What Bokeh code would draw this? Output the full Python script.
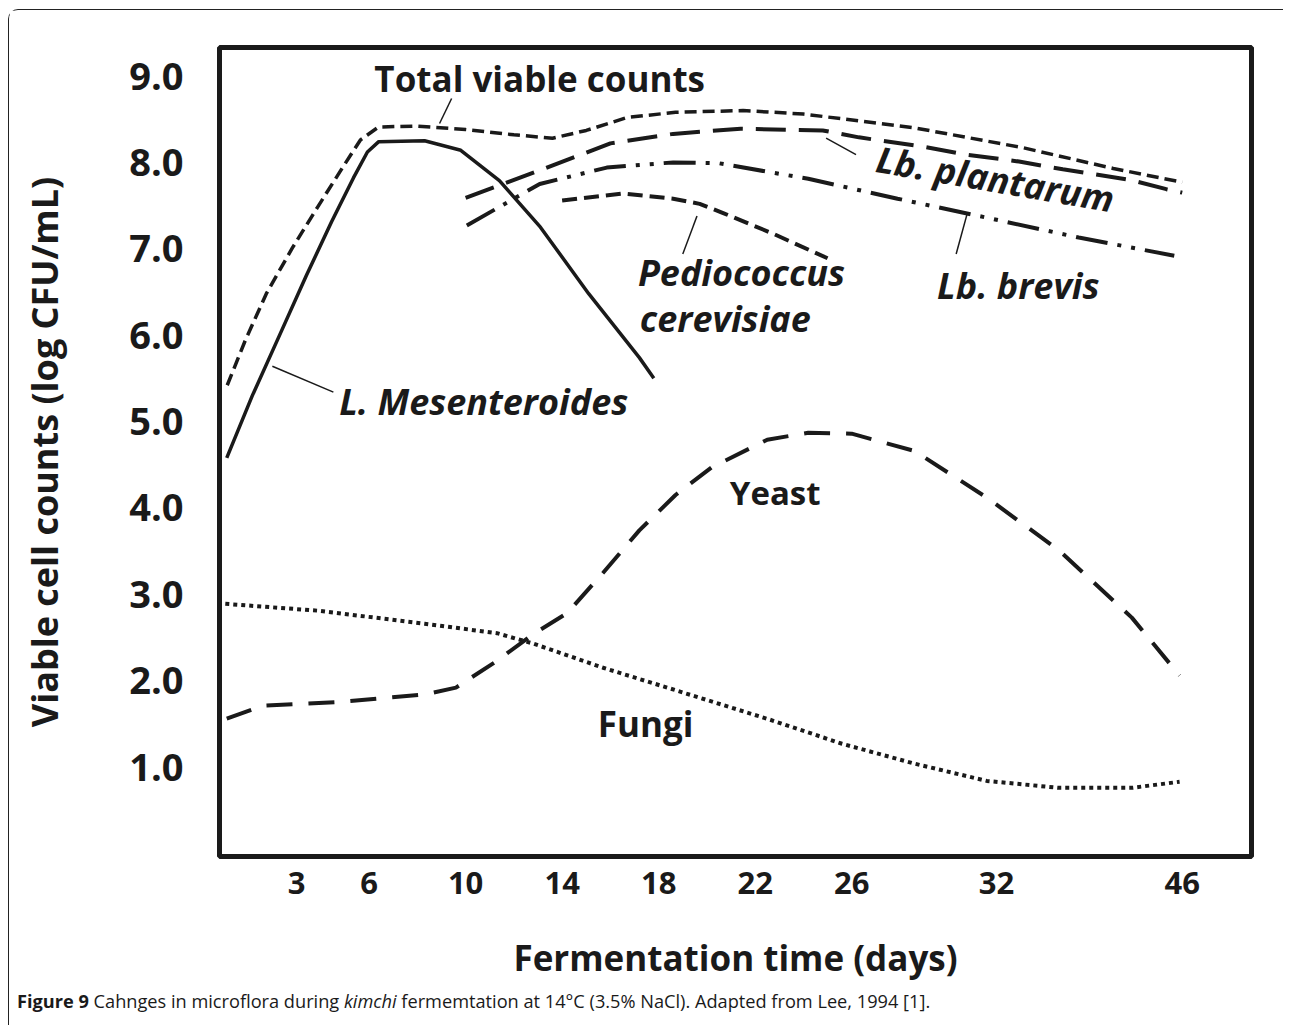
import numpy as np
from bokeh.plotting import figure
from bokeh.models import Range1d, FixedTicker, PrintfTickFormatter, Label, Div
from bokeh.layouts import column
from bokeh.embed import file_html
from bokeh.resources import INLINE

# ---------------- data ----------------
tick_days = [3, 6, 10, 14, 18, 22, 26, 32, 46]
tick_labels = ["3", "6", "10", "14", "18", "22", "26", "32", "46"]
y_ticks = [1, 2, 3, 4, 5, 6, 7, 8, 9]

# the day axis is compressed after day 32 (32 -> 46 drawn shorter)
axis_days = [0, 32, 46]
axis_pos = [0, 32, 39.7]

total_days = [0.12, 0.87, 1.74, 2.82, 3.86, 4.9, 5.64, 6.39, 8.0, 10.0, 12.0, 13.6, 15.0, 16.7, 18.7, 21.5, 24.0, 28.6, 34.0, 40.8, 46.0]
total_vals = [5.42, 5.94, 6.48, 7.01, 7.48, 7.94, 8.26, 8.41, 8.42, 8.38, 8.32, 8.28, 8.37, 8.52, 8.58, 8.60, 8.56, 8.40, 8.17, 7.93, 7.77]

mes_days = [0.1, 1.16, 2.37, 3.4, 4.44, 5.35, 5.93, 6.4, 8.3, 9.8, 11.4, 13.1, 15.1, 17.2, 17.8]
mes_vals = [4.58, 5.30, 6.05, 6.69, 7.31, 7.82, 8.12, 8.24, 8.25, 8.14, 7.79, 7.25, 6.48, 5.74, 5.50]

plant_days = [10.0, 13.0, 16.0, 18.6, 21.4, 24.8, 26.3, 29.0, 30.75, 33.7, 37.0, 42.0, 44.8, 46.0]
plant_vals = [7.59, 7.90, 8.22, 8.33, 8.39, 8.37, 8.29, 8.18, 8.09, 8.01, 7.92, 7.80, 7.69, 7.65]

brevis_days = [10.05, 13.07, 15.85, 18.6, 20.5, 24.2, 27.9, 31.6, 38.2, 45.4]
brevis_vals = [7.27, 7.75, 7.94, 8.00, 7.99, 7.81, 7.58, 7.36, 7.13, 6.92]

pedio_days = [14.0, 16.5, 18.6, 19.7, 20.7, 22.7, 25.0]
pedio_vals = [7.56, 7.64, 7.58, 7.52, 7.41, 7.18, 6.89]

yeast_days = [0.1, 1.6, 4.6, 8.3, 9.6, 11.3, 12.8, 14.2, 15.7, 17.2, 18.7, 20.2, 22.5, 24.2, 26.0, 28.6, 31.6, 36.7, 42.2, 45.8]
yeast_vals = [1.56, 1.71, 1.75, 1.84, 1.92, 2.23, 2.54, 2.78, 3.25, 3.74, 4.15, 4.47, 4.79, 4.87, 4.86, 4.66, 4.12, 3.51, 2.73, 2.06]

fungi_days = [0.04, 3.9, 8.3, 11.3, 12.8, 15.7, 18.7, 22.6, 25.6, 28.6, 31.6, 36.7, 42.2, 45.8]
fungi_vals = [2.89, 2.81, 2.66, 2.55, 2.43, 2.15, 1.89, 1.55, 1.27, 1.04, 0.84, 0.76, 0.76, 0.83]


def pos(days):
    return np.interp(np.asarray(days, dtype=float), axis_days, axis_pos)


INK = "#1a1a1a"
FONT = "Open Sans"

p = figure(width=1274, height=979,
           x_range=Range1d(-0.2, 42.57), y_range=Range1d(-0.035, 9.33),
           output_backend="svg", toolbar_location=None,
           min_border_left=210, min_border_right=32,
           min_border_top=37, min_border_bottom=133)
p.background_fill_color = "white"
p.border_fill_color = "white"
p.outline_line_color = INK
p.outline_line_width = 5
p.grid.visible = False

# ---- axes ----
tpos = [float(v) for v in pos(tick_days)]
p.xaxis.ticker = FixedTicker(ticks=tpos)
p.xaxis.major_label_overrides = {t: lab for t, lab in zip(tpos, tick_labels)}
p.yaxis.ticker = FixedTicker(ticks=y_ticks)
p.yaxis.formatter = PrintfTickFormatter(format="%.1f")
for ax in (p.xaxis, p.yaxis):
    ax.axis_line_color = None
    ax.major_tick_line_color = None
    ax.minor_tick_line_color = None
    ax.major_label_text_color = INK
    ax.major_label_text_font = FONT
    ax.major_label_text_font_style = "bold"
    ax.axis_label_text_color = INK
    ax.axis_label_text_font = FONT
    ax.axis_label_text_font_style = "bold"

p.xaxis.major_label_text_font_size = "31px"
p.xaxis.major_label_standoff = 9
p.xaxis.axis_label = "Fermentation time (days)"
p.xaxis.axis_label_text_font_size = "35px"
p.xaxis.axis_label_standoff = 37

p.yaxis.major_label_text_font_size = "38px"
p.yaxis.major_label_standoff = 30
p.yaxis.axis_label = "Viable cell counts (log CFU/mL)"
p.yaxis.axis_label_text_font_size = "36px"
p.yaxis.axis_label_standoff = 57

# ---- curves ----
p.line(pos(fungi_days), fungi_vals, line_color=INK, line_width=4, line_dash="4 4")
p.line(pos(yeast_days), yeast_vals, line_color=INK, line_width=4, line_dash="26 16")
p.line(pos(pedio_days), pedio_vals, line_color=INK, line_width=4, line_dash="15 7")
p.line(pos(brevis_days), brevis_vals, line_color=INK, line_width=4, line_dash="32 10 4 10 4 10")
p.line(pos(plant_days), plant_vals, line_color=INK, line_width=4, line_dash="30 13")
p.line(pos(mes_days), mes_vals, line_color=INK, line_width=3.5)
p.line(pos(total_days), total_vals, line_color=INK, line_width=3.5, line_dash="12 6")

# ---- pointer lines for the curve names ----
ptr_x0 = [9.42, 1.99, 19.59, 24.94, 30.79]
ptr_y0 = [8.74, 5.64, 7.38, 8.28, 7.41]
ptr_x1 = [8.92, 4.52, 19.00, 26.18, 30.33]
ptr_y1 = [8.45, 5.34, 6.94, 8.09, 6.94]
p.segment(ptr_x0, ptr_y0, ptr_x1, ptr_y1, line_color=INK, line_width=1.5)

# ---- curve names ----
def add_label(x, y, text, size, style, align="left", angle=0.0):
    p.add_layout(Label(x=x, y=y, text=text, text_font=FONT, text_font_size=size,
                       text_font_style=style, text_color=INK, text_align=align,
                       text_baseline="middle", angle=angle))

add_label(13.07, 8.97, "Total viable counts", "35px", "bold", "center")
add_label(10.75, 5.23, "L. Mesenteroides", "36px", "bold italic", "center")
add_label(17.14, 6.72, "Pediococcus", "36px", "bold italic")
add_label(17.22, 6.19, "cerevisiae", "36px", "bold italic")
add_label(31.95, 7.81, "Lb. plantarum", "36px", "bold italic", "center", -0.17)
add_label(29.54, 6.57, "Lb. brevis", "36px", "bold italic")
add_label(20.95, 4.18, "Yeast", "33px", "bold")
add_label(15.48, 1.50, "Fungi", "35px", "bold")

caption = Div(
    text=("<b>Figure 9</b> Cahnges in microflora during <i>kimchi</i> fermemtation at 14&deg;C "
          "(3.5% NaCl). Adapted from Lee, 1994 [1]."),
    width=1250, height=26,
    styles={"font-family": "Open Sans", "font-size": "18.2px", "color": INK,
            "padding-left": "3px", "line-height": "14px"})

layout = column(p, caption,
                styles={"margin-left": "8px", "margin-top": "9px",
                        "border-left": "1.5px solid #222", "border-top": "1.5px solid #222",
                        "border-top-left-radius": "10px"})

open("out.html", "w").write(file_html(layout, INLINE))
